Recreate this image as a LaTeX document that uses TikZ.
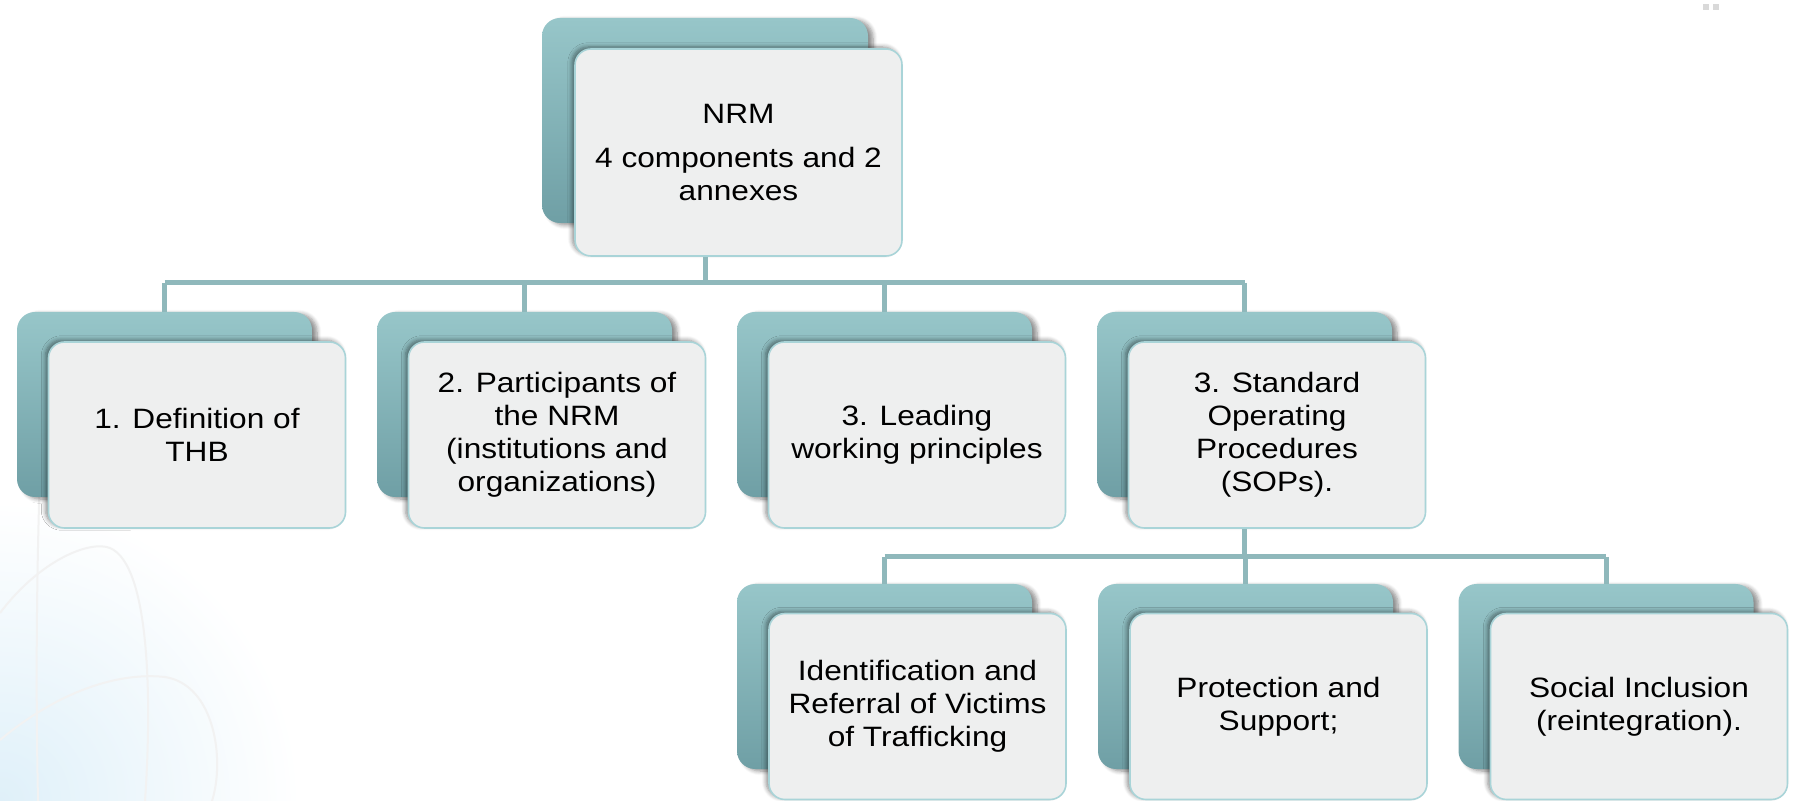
\documentclass[tikz,border=0pt]{standalone}
\usepackage{fontspec}
\setmainfont{Liberation Sans}[FakeStretch=1.13]
\usetikzlibrary{positioning,shadows.blur}

\definecolor{backtop}{HTML}{97C6C9}
\definecolor{backbot}{HTML}{6F9FA5}
\definecolor{frontfill}{HTML}{EEEFEF}
\definecolor{frontline}{HTML}{A9D4D8}
\definecolor{linkcol}{HTML}{8FB8BB}
\definecolor{glow}{HTML}{DFF0F9}

\begin{document}
\begin{tikzpicture}[x=0.5pt,y=-0.5pt]
% Styles
\tikzset{
  backbox/.style={rounded corners=9pt, minimum width=147.5pt, minimum height=92.5pt,
    top color=backtop, bottom color=backbot,
    blur shadow={shadow xshift=2.5pt, shadow yshift=-1pt, shadow blur steps=6, shadow opacity=45}},
  frontbox/.style={rounded corners=8pt, minimum width=148.5pt, minimum height=93pt,
    fill=frontfill, draw=frontline, line width=0.8pt, align=center,
    font=\fontsize{14}{16.5}\selectfont,
    blur shadow={shadow xshift=-1.5pt, shadow yshift=1pt, shadow blur steps=6, shadow opacity=45}},
  link/.style={draw=linkcol, line width=2.5pt},
  swirl/.style={draw=gray!10, line width=1pt}
}
\useasboundingbox (0,0) rectangle (1794,801);

% faint background
\begin{scope}
\clip (0,0) rectangle (1794,801);
\shade[inner color=glow, outer color=white] (0,801) circle (150pt);
\end{scope}
\draw[swirl] (0,613) .. controls (40,560) and (90,540) .. (110,548) .. controls (150,565) and (152,700) .. (145,801);
\draw[swirl] (0,740) .. controls (60,690) and (120,672) .. (165,677) .. controls (215,685) and (225,760) .. (212,801);
\draw[swirl] (40,470) .. controls (36,600) and (36,700) .. (38,801);
\fill[gray!30] (1703,4) rectangle (1709,10);
\fill[gray!30] (1713,4) rectangle (1719,10);

% top box
\node[backbox, minimum width=163pt, minimum height=102.5pt] (b0) at (705,120.5) {};
\node[frontbox, minimum width=163.5pt, minimum height=103.5pt] (n0) at (738.5,152.5)
  {NRM\\[5.5pt]4 components and 2\\annexes};

% second row
\foreach \i/\x/\txt in {1/164.5/{1. Definition of\\THB},
                        2/524.5/{2. Participants of\\the NRM\\(institutions and\\organizations)},
                        3/884.5/{3. Leading\\working principles},
                        4/1244.5/{3. Standard\\Operating\\Procedures\\(SOPs).}} {
  \node[backbox] (b\i) at (\x,404.5) {};
  \node[frontbox] (n\i) at (\x+32.5,435) {\txt};
}

% third row
\foreach \i/\x/\txt in {5/884.5/{Identification and\\Referral of Victims\\of Trafficking},
                        6/1245.5/{Protection and\\Support;},
                        7/1606/{Social Inclusion\\(reintegration).}} {
  \node[backbox] (b\i) at (\x,676.5) {};
  \node[frontbox] (n\i) at (\x+33,706.5) {\txt};
}

% connectors
\coordinate (bar1) at (0,283);
\coordinate (bar2) at (0,557);
\draw[link] (b0 |- n0.south) -- (b0 |- bar1);
\draw[link] (b1 |- bar1) -- (b4 |- bar1);
\foreach \i in {1,2,3,4} {
  \draw[link] (b\i |- bar1) -- (b\i.north);
}
\draw[link] (b4 |- n4.south) -- (b4 |- bar2);
\draw[link] (b5 |- bar2) -- (b7 |- bar2);
\foreach \i in {5,6,7} {
  \draw[link] (b\i |- bar2) -- (b\i.north);
}

\end{tikzpicture}
\end{document}
